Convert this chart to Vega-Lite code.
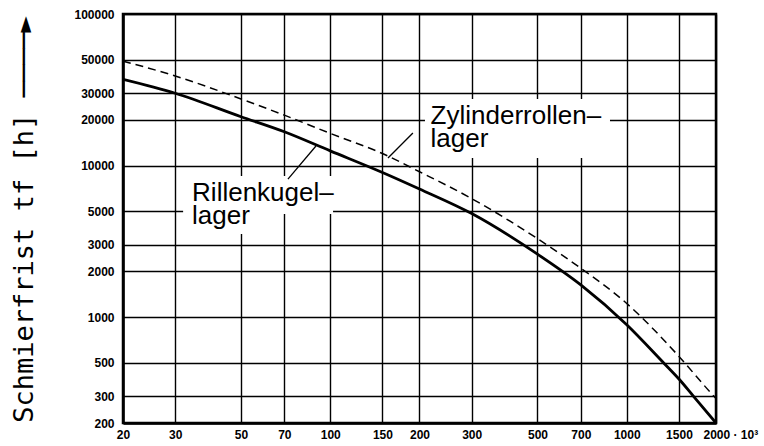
{
  "$schema": "https://vega.github.io/schema/vega-lite/v6.json",
  "width": 593,
  "height": 409,
  "autosize": "none",
  "padding": {"left": 123, "top": 14, "right": 48, "bottom": 23},
  "background": "white",
  "config": {
    "view": {"stroke": "black", "strokeWidth": 2.5},
    "axis": {
      "grid": true,
      "gridColor": "black",
      "gridOpacity": 1,
      "gridWidth": 1.4,
      "domainColor": "black",
      "domainWidth": 2.5,
      "ticks": false,
      "labelFont": "Liberation Sans",
      "labelFontSize": 12,
      "labelFontWeight": "bold",
      "labelColor": "black",
      "labelOverlap": false,
      "labelFlush": false
    }
  },
  "datasets": {
    "curves": [
      {"x": 20, "t": 37100, "lager": "Rillenkugellager"},
      {"x": 30, "t": 30000, "lager": "Rillenkugellager"},
      {"x": 50, "t": 21000, "lager": "Rillenkugellager"},
      {"x": 70, "t": 16700, "lager": "Rillenkugellager"},
      {"x": 100, "t": 12500, "lager": "Rillenkugellager"},
      {"x": 150, "t": 9000, "lager": "Rillenkugellager"},
      {"x": 200, "t": 7000, "lager": "Rillenkugellager"},
      {"x": 300, "t": 4820, "lager": "Rillenkugellager"},
      {"x": 500, "t": 2600, "lager": "Rillenkugellager"},
      {"x": 700, "t": 1630, "lager": "Rillenkugellager"},
      {"x": 1000, "t": 890, "lager": "Rillenkugellager"},
      {"x": 1330, "t": 500, "lager": "Rillenkugellager"},
      {"x": 1500, "t": 390, "lager": "Rillenkugellager"},
      {"x": 1680, "t": 300, "lager": "Rillenkugellager"},
      {"x": 2000, "t": 200, "lager": "Rillenkugellager"},
      {"x": 20, "t": 48900, "lager": "Zylinderrollenlager"},
      {"x": 30, "t": 39000, "lager": "Zylinderrollenlager"},
      {"x": 50, "t": 27500, "lager": "Zylinderrollenlager"},
      {"x": 70, "t": 21500, "lager": "Zylinderrollenlager"},
      {"x": 100, "t": 16300, "lager": "Zylinderrollenlager"},
      {"x": 150, "t": 12000, "lager": "Zylinderrollenlager"},
      {"x": 200, "t": 9100, "lager": "Zylinderrollenlager"},
      {"x": 300, "t": 6050, "lager": "Zylinderrollenlager"},
      {"x": 500, "t": 3290, "lager": "Zylinderrollenlager"},
      {"x": 700, "t": 2100, "lager": "Zylinderrollenlager"},
      {"x": 1000, "t": 1230, "lager": "Zylinderrollenlager"},
      {"x": 1500, "t": 550, "lager": "Zylinderrollenlager"},
      {"x": 1910, "t": 320, "lager": "Zylinderrollenlager"},
      {"x": 2000, "t": 290, "lager": "Zylinderrollenlager"}
    ],
    "labels": [
      {"x": 218, "t": 18790, "text": "Zylinderrollen–\nlager"},
      {"x": 34.2, "t": 5830, "text": "Rillenkugel–\nlager"}
    ],
    "boxes": [
      {"x": 208.7, "t": 27470, "x2": 878, "t2": 11210},
      {"x": 31.9, "t": 8525, "x2": 102.2, "t2": 4785},
      {"x": 31.9, "t": 4785, "x2": 58.9, "t2": 3533}
    ],
    "leaders": [
      {"x": 190, "t": 16380, "x2": 156.6, "t2": 11210},
      {"x": 72, "t": 8143, "x2": 89.5, "t2": 13450}
    ]
  },
  "encoding": {
    "x": {
      "field": "x",
      "type": "quantitative",
      "scale": {"type": "log", "domain": [20, 2000], "nice": false},
      "axis": {
        "title": null,
        "values": [20, 30, 50, 70, 100, 150, 200, 300, 500, 700, 1000, 1500, 2000],
        "format": "d",
        "labelExpr": "datum.value == 2000 ? '2000 · 10³' : datum.label",
        "labelAlign": {"condition": {"test": "datum.value == 2000", "value": "left"}, "value": "center"},
        "labelOffset": {"condition": {"test": "datum.value == 2000", "value": -13}, "value": 0},
        "labelPadding": 6
      }
    },
    "y": {
      "field": "t",
      "type": "quantitative",
      "scale": {"type": "log", "domain": [200, 100000], "nice": false},
      "axis": {
        "values": [200, 300, 500, 1000, 2000, 3000, 5000, 10000, 20000, 30000, 50000, 100000],
        "format": "d",
        "labelPadding": 9,
        "title": "Schmierfrist tf [h]  ────►",
        "titleFont": "DejaVu Sans Mono",
        "titleFontSize": 27,
        "titleFontWeight": "normal",
        "titleColor": "black",
        "titleAngle": -90,
        "titleX": -91,
        "titleY": 205,
        "titleAlign": "center",
        "titleBaseline": "alphabetic"
      }
    }
  },
  "layer": [
    {
      "data": {"name": "boxes"},
      "mark": {"type": "rect", "color": "white", "opacity": 1},
      "encoding": {
        "x2": {"field": "x2"},
        "y2": {"field": "t2"}
      }
    },
    {
      "data": {"name": "curves"},
      "transform": [{"filter": "datum.lager == 'Rillenkugellager'"}],
      "mark": {"type": "line", "color": "black", "strokeWidth": 2.8, "interpolate": "monotone", "clip": true}
    },
    {
      "data": {"name": "curves"},
      "transform": [{"filter": "datum.lager == 'Zylinderrollenlager'"}],
      "mark": {"type": "line", "color": "black", "strokeWidth": 1.5, "strokeDash": [8, 5], "interpolate": "monotone", "clip": true}
    },
    {
      "data": {"name": "leaders"},
      "mark": {"type": "rule", "color": "black", "strokeWidth": 1.3},
      "encoding": {
        "x2": {"field": "x2"},
        "y2": {"field": "t2"}
      }
    },
    {
      "data": {"name": "labels"},
      "mark": {"type": "text", "font": "Liberation Sans", "fontSize": 26, "lineHeight": 23, "lineBreak": "\n", "align": "left", "baseline": "alphabetic", "fill": "black"},
      "encoding": {"text": {"field": "text"}}
    }
  ]
}
